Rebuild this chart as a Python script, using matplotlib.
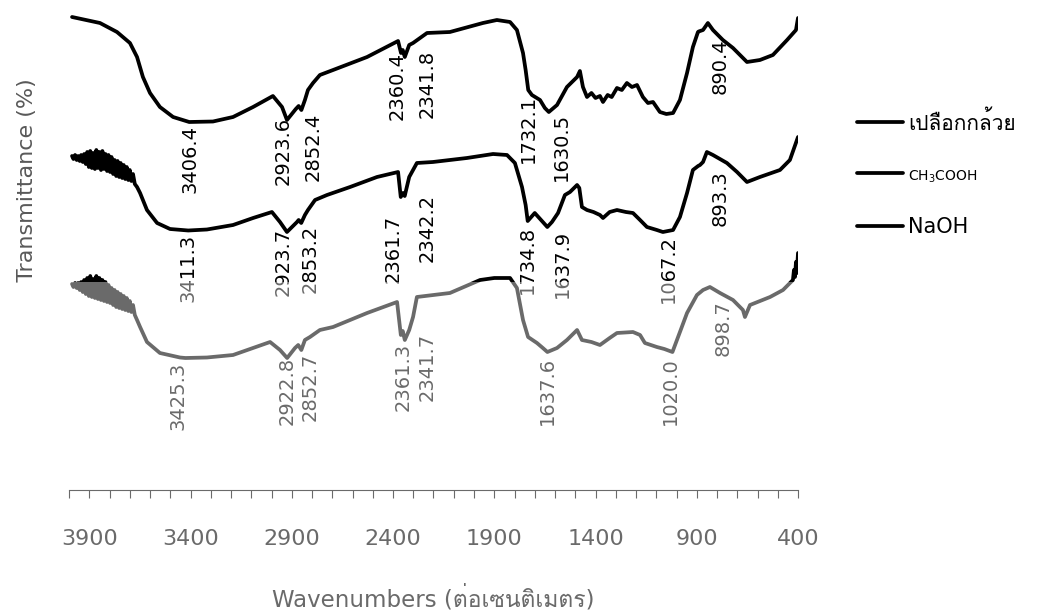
import numpy as np
import matplotlib
matplotlib.use("Agg")
import matplotlib.pyplot as plt
import matplotlib.font_manager as fm
from matplotlib.ft2font import FT2Font
from matplotlib.patches import Rectangle
from matplotlib.ticker import FixedLocator, MultipleLocator


def family_with(char):
    """Return the first installed font family that has a glyph for char."""
    code = ord(char)
    seen = set()
    for entry in fm.fontManager.ttflist:
        if entry.name in seen:
            continue
        seen.add(entry.name)
        try:
            if code in FT2Font(entry.fname).get_charmap():
                return entry.name
        except Exception:
            continue
    return None


thai_family = family_with("ก")
families = ["DejaVu Sans"] + ([thai_family] if thai_family else [])
plt.rcParams["font.family"] = families

# ---------------- FT-IR spectra (wavenumber in cm-1, transmittance, stacked) ----------------
series_names = ["เปลือกกล้วย", "CH$_3$COOH", "NaOH"]

wn_peel = [3985, 3847, 3763, 3699, 3664, 3635, 3600, 3551, 3486, 3406.4,
           3289, 3190, 3091, 2993, 2948, 2923.6, 2880, 2866, 2852.4, 2835,
           2820, 2795, 2761, 2696, 2528, 2375, 2360.4, 2352, 2341.8, 2320,
           2301, 2232, 2119, 1956, 1887, 1822, 1788, 1758, 1745, 1732.1,
           1714, 1674, 1650, 1630.5, 1590, 1541, 1491, 1477, 1462, 1442,
           1420, 1400, 1378, 1363, 1340, 1320, 1294, 1270, 1245, 1220,
           1195, 1166, 1141, 1116, 1082, 1050, 1017, 983, 948, 919,
           894, 890.4, 869, 845, 820, 771, 721, 652, 588, 524,
           454, 410, 400]
t_peel = [94.6, 93.4, 91.6, 89.4, 86.6, 82.6, 79.4, 76.6, 74.6, 73.6,
          73.7, 74.6, 76.6, 78.8, 76.6, 74.0, 76.2, 76.8, 76.0, 78.0,
          80.0, 81.4, 83.0, 84.0, 86.6, 89.8, 87.4, 88.0, 86.6, 89.0,
          89.4, 91.4, 91.6, 93.4, 94.0, 93.6, 92.0, 87.4, 84.0, 80.0,
          79.0, 78.0, 76.4, 75.6, 77.0, 80.6, 82.6, 83.8, 80.6, 78.6,
          79.4, 78.4, 78.8, 77.6, 79.0, 78.6, 80.4, 80.0, 81.4, 80.6,
          81.0, 78.6, 77.4, 77.6, 75.6, 75.2, 75.4, 78.0, 83.4, 88.6,
          91.6, 91.7, 92.0, 93.4, 92.0, 90.0, 88.4, 85.6, 86.0, 87.0,
          90.0, 92.0, 94.4]

wn_acid = [3985, 3978, 3970, 3962, 3955, 3947, 3940, 3932, 3925, 3917,
           3910, 3902, 3895, 3887, 3880, 3872, 3865, 3857, 3850, 3842,
           3835, 3827, 3820, 3812, 3805, 3797, 3790, 3782, 3775, 3767,
           3760, 3752, 3745, 3737, 3730, 3722, 3715, 3707, 3700, 3692,
           3684, 3675, 3664,
           3649, 3615, 3565, 3501, 3411.3, 3319, 3190, 3091, 2998, 2958,
           2923.7, 2874, 2866, 2853.2, 2835, 2820, 2785, 2726, 2612, 2479,
           2375, 2361.7, 2351, 2342.2, 2320, 2282, 2203, 2035, 1906, 1837,
           1798, 1763, 1745, 1734.8, 1700, 1660, 1637.9, 1615, 1585, 1551,
           1526, 1491, 1480, 1467, 1442, 1410, 1378, 1363, 1330, 1294,
           1250, 1215, 1180, 1146, 1097, 1067.2, 1017, 983, 948, 919,
           893.3, 884, 869, 850, 820, 751, 701, 652, 588, 489,
           440, 400]
t_acid = [66.8, 66.2, 67.0, 66.0, 66.8, 65.8, 67.0, 65.6, 67.2, 65.2,
          67.6, 64.6, 67.8, 64.4, 67.4, 64.2, 68.0, 64.4, 67.6, 64.0,
          67.8, 64.2, 67.2, 63.8, 67.0, 63.6, 66.6, 63.2, 66.0, 62.8,
          65.8, 62.6, 65.4, 62.4, 65.0, 62.2, 64.6, 62.0, 64.0, 61.8,
          63.2, 61.2, 60.6,
          59.4, 56.0, 53.4, 52.2, 51.9, 52.1, 53.0, 54.4, 55.6, 53.6,
          51.6, 53.6, 54.0, 53.4, 55.0, 56.0, 58.0, 59.0, 60.6, 62.6,
          63.6, 58.6, 59.4, 58.8, 62.6, 65.4, 65.6, 66.4, 67.2, 67.0,
          65.4, 60.6, 57.0, 53.8, 55.4, 53.6, 52.6, 53.6, 55.4, 59.0,
          59.6, 61.0, 60.4, 56.6, 56.0, 55.6, 55.0, 54.4, 55.6, 56.0,
          55.6, 55.4, 54.0, 52.6, 52.0, 51.6, 52.0, 54.6, 59.4, 64.0,
          64.8, 65.0, 65.6, 67.6, 67.0, 65.4, 63.6, 61.6, 62.6, 64.0,
          66.0, 70.6]

wn_base = [3985, 3978, 3970, 3962, 3955, 3947, 3940, 3932, 3925, 3917,
           3910, 3902, 3895, 3887, 3880, 3872, 3865, 3857, 3850, 3842,
           3835, 3827, 3820, 3812, 3805, 3797, 3790, 3782, 3775, 3767,
           3760, 3752, 3745, 3737, 3730, 3722, 3715, 3707, 3700, 3692,
           3684, 3675, 3664,
           3649, 3615, 3551, 3452, 3425.3, 3319, 3190, 3007, 2958, 2922.8,
           2884, 2868, 2852.7, 2835, 2810, 2761, 2696, 2528, 2380, 2361.3,
           2352, 2341.7, 2320, 2301, 2282, 2119, 1970, 1900, 1822, 1788,
           1758, 1733, 1689, 1660, 1637.6, 1590, 1541, 1491, 1467, 1420,
           1378, 1330, 1294, 1215, 1180, 1156, 1097, 1060, 1020.0, 983,
           948, 899, 869, 835, 785, 721, 672, 662, 637, 538,
           474, 425, 420, 415, 410, 405, 402, 400]
t_base = [41.2, 40.6, 41.4, 40.4, 41.4, 40.0, 41.6, 39.6, 42.0, 39.2,
          42.4, 38.8, 42.8, 38.6, 42.2, 38.4, 42.8, 38.2, 42.4, 38.0,
          42.0, 37.8, 41.6, 37.6, 41.0, 37.4, 40.4, 37.0, 40.0, 36.6,
          39.6, 36.4, 39.2, 36.2, 38.8, 36.0, 38.4, 35.8, 37.8, 35.6,
          37.0, 35.0, 34.0,
          32.6, 29.6, 27.4, 26.5, 26.4, 26.5, 27.0, 29.6, 28.0, 26.4,
          28.4, 29.0, 28.0, 30.0, 30.6, 32.0, 32.6, 35.4, 37.6, 31.0,
          31.8, 30.0, 32.0, 34.6, 38.6, 39.4, 42.0, 42.4, 42.4, 40.4,
          34.0, 30.6, 29.4, 28.4, 27.6, 28.4, 30.0, 32.0, 30.0, 29.6,
          29.0, 30.4, 31.4, 31.6, 31.0, 29.4, 28.6, 28.2, 27.6, 31.6,
          35.4, 39.0, 40.0, 40.6, 39.4, 38.0, 36.0, 34.6, 37.0, 38.6,
          40.0, 42.0, 44.0, 42.6, 45.6, 43.4, 46.0, 47.4]

# labelled band positions (cm-1)
peaks_peel = [3406.4, 2923.6, 2852.4, 2360.4, 2341.8, 1732.1, 1630.5, 890.4]
peaks_acid = [3411.3, 2923.7, 2853.2, 2361.7, 2342.2, 1734.8, 1637.9, 1067.2, 893.3]
peaks_base = [3425.3, 2922.8, 2852.7, 2361.3, 2341.7, 1637.6, 1020.0, 898.7]

x_ticks = [3900, 3400, 2900, 2400, 1900, 1400, 900, 400]

# label nudges in pixels (right, down) so neighbouring labels do not collide
nudge_peel = [(1, 3), (-4, -3), (12, 3), (-4, -1), (22, -7), (0, 5), (13, 1), (21, 7)]
nudge_acid = [(0, 3), (-4, -4), (9, 2), (-8, 18), (22, -2), (0, 5), (15, 3), (5, 3), (22, 4)]
nudge_base = [(-7, 4), (0, -1), (9, 3), (2, 8), (22, -7), (0, 5), (-2, 5), (26, 5)]

# ---------------- figure ----------------
W, H = 1047, 613
fig = plt.figure(figsize=(W / 100, H / 100), dpi=100)
fig.patch.set_facecolor("white")
ax = fig.add_axes([69 / W, 1 - 490 / H, 729 / W, 480 / H])

spectra = [(wn_peel, t_peel, peaks_peel, nudge_peel),
           (wn_acid, t_acid, peaks_acid, nudge_acid),
           (wn_base, t_base, peaks_base, nudge_base)]

handles = []
for name, (wn, tr, peaks, nudges) in zip(series_names, spectra):
    line, = ax.plot(wn, tr, color="black", lw=2.7, solid_joinstyle="round",
                    solid_capstyle="round", label=name, zorder=3)
    handles.append(line)
    wn_arr = np.asarray(wn, dtype=float)[::-1]
    tr_arr = np.asarray(tr, dtype=float)[::-1]
    for value, (dx, dy) in zip(peaks, nudges):
        yv = float(np.interp(value, wn_arr, tr_arr))
        ax.annotate(f"{value:.1f}", xy=(value, yv), xytext=(dx, -dy),
                    textcoords="offset pixels", rotation=90,
                    ha="center", va="top", fontsize=14, color="black",
                    zorder=4)

ax.set_xlim(4000, 400)
ax.set_ylim(0, 96)
ax.set_yticks([])
for side in ("left", "right", "top"):
    ax.spines[side].set_visible(False)
ax.spines["bottom"].set_color("black")
ax.spines["bottom"].set_linewidth(0.8)
ax.xaxis.set_major_locator(FixedLocator(x_ticks))
ax.xaxis.set_minor_locator(MultipleLocator(100))
ax.tick_params(axis="x", which="both", direction="out", length=6, width=0.8,
               color="black")
ax.tick_params(axis="x", which="major", labelsize=16, pad=22, labelcolor="black")
ax.set_facecolor("none")

ax.set_xlabel("Wavenumbers (ต่อเซนติเมตร)", fontsize=16.5, color="black",
              labelpad=26)
ax.set_ylabel("Transmittance (%)", fontsize=16, color="#595959")
ax.yaxis.set_label_coords(-0.044, 0.646)

leg = ax.legend(handles, series_names, loc="upper left",
                bbox_to_anchor=(857 / W, 1 - 110 / H),
                bbox_transform=fig.transFigure, frameon=False, fontsize=15,
                handlelength=2.2, handletextpad=0.25, labelspacing=1.55,
                borderpad=0, borderaxespad=0)
leg.get_texts()[1].set_fontsize(10)

# the lower band of the printout is washed out
fig.add_artist(Rectangle((0, 0), 1, 1 - 282 / H, transform=fig.transFigure,
                         facecolor="white", edgecolor="none", alpha=0.42,
                         zorder=10))

fig.savefig("out.png", dpi=100)
